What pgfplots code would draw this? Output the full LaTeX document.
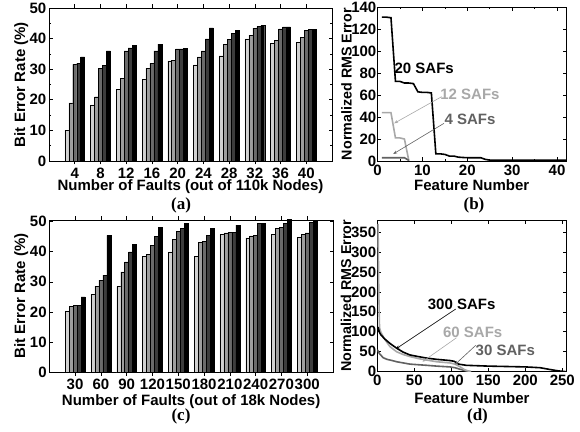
\documentclass[border=0pt]{standalone}
\usepackage{pgfplots}
\pgfplotsset{compat=1.18}
\usepackage{pgfplotstable}
\usetikzlibrary{arrows.meta}
\usepackage{fontspec}
\setmainfont{Liberation Sans}
\newfontfamily\capfont{Liberation Serif}

\definecolor{b1}{gray}{0.82}
\definecolor{b2}{gray}{0.62}
\definecolor{b3}{gray}{0.42}
\definecolor{b4}{gray}{0.24}
\definecolor{b5}{gray}{0.0}
\definecolor{lg}{gray}{0.66}
\definecolor{dg}{gray}{0.38}

\newcommand{\ff}{\fontsize{15}{17}\selectfont\bfseries}
\newcommand{\fs}{\fontsize{14.3}{16}\selectfont\bfseries}

\pgfplotstableread{
g s1 s2 s3 s4 s5
1 10 19 31.6 31.9 34
2 18.3 21 30.3 31.3 36
3 23.4 27 36 37 37.7
4 26.7 30.3 31.9 36 38.2
5 32.7 32.9 36.6 36.6 36.7
6 31.4 34 36 39.9 43.5
7 34.4 38.2 39.8 41.7 42.7
8 39.9 41.1 43.4 43.9 44.3
9 38.5 39.4 43.2 43.8 43.8
10 38.8 40.5 42.6 43 43.1
}\dataA

\pgfplotstableread{
g s1 s2 s3 s4 s5
1 20.4 21.8 22.3 22.3 25
2 25.8 28.6 30.6 32.2 45.4
3 28.4 33.3 36.6 39.9 42.5
4 38.5 39.2 42 45.1 48.1
5 39.9 44 46.8 47.8 49.5
6 38.5 43 43.5 45.5 47.7
7 45.7 46.2 46.3 46.4 48.8
8 44.6 45.2 45.4 49.4 49.4
9 45.7 47.7 48.1 49.3 50.8
10 44.7 45.7 46.2 49.7 50.1
}\dataC

\pgfplotsset{
  myax/.style={
    scale only axis, anchor=south west,
    axis line style={line width=0.8pt},
    every tick/.style={black, line width=0.6pt},
    major tick length=3.5pt, minor tick length=2pt,
    tick label style={font=\ff, inner sep=0.5pt},
    xticklabel style={yshift=-3pt},
    label style={font=\ff, inner sep=0.5pt},
    /pgf/number format/assume math mode=true,
  },
  barax/.style={
    myax, ybar, bar width=0.154,
    xmin=0, xmax=11, ymin=0,
    xtick={1,...,10},
    ytick={0,10,...,50},
    yticklabel style={xshift=-2pt},
    ylabel={Bit Error Rate (\%)},
  },
  barstyle/.style={draw=black, line width=0.4pt, fill=#1},
}

\begin{document}
\begin{tikzpicture}[x=1pt,y=1pt]
\useasboundingbox (0,0) rectangle (580,431);

% (a)
\begin{axis}[barax, at={(49pt,270pt)}, width=283pt, height=153pt,
  ymax=50, minor ytick={5,15,...,45},
  xticklabels={4,8,12,16,20,24,28,32,36,40},
  xlabel={Number of Faults (out of 110k Nodes)},
  y label style={at={(axis description cs:-0.098,0.5)}, anchor=center},
  x label style={at={(axis description cs:0.5,-0.17)}, anchor=center}]
\addplot[barstyle=b1, bar shift=-0.308] table[x=g,y=s1]{\dataA};
\addplot[barstyle=b2, bar shift=-0.154] table[x=g,y=s2]{\dataA};
\addplot[barstyle=b3, bar shift=0] table[x=g,y=s3]{\dataA};
\addplot[barstyle=b4, bar shift=0.154] table[x=g,y=s4]{\dataA};
\addplot[barstyle=b5, bar shift=0.308] table[x=g,y=s5]{\dataA};
\end{axis}

% (c)
\begin{axis}[barax, at={(49.3pt,58.7pt)}, width=283.7pt, height=152.3pt,
  ymax=50.5,
  xticklabels={30,60,90,120,150,180,210,240,270,300},
  xlabel={Number of Faults (out of 18k Nodes)},
  y label style={at={(axis description cs:-0.099,0.5)}, anchor=center},
  x label style={at={(axis description cs:0.5,-0.19)}, anchor=center}]
\addplot[barstyle=b1, bar shift=-0.308] table[x=g,y=s1]{\dataC};
\addplot[barstyle=b2, bar shift=-0.154] table[x=g,y=s2]{\dataC};
\addplot[barstyle=b3, bar shift=0] table[x=g,y=s3]{\dataC};
\addplot[barstyle=b4, bar shift=0.154] table[x=g,y=s4]{\dataC};
\addplot[barstyle=b5, bar shift=0.308] table[x=g,y=s5]{\dataC};
\end{axis}

% (b)
\begin{axis}[myax, at={(377.5pt,270pt)}, width=188.5pt, height=153.7pt,
  xmin=0, xmax=42, ymin=0, ymax=140,
  xtick={0,10,...,40}, minor xtick={5,15,...,35},
  ytick={0,20,...,140},
  yticklabel style={xshift=-0.5pt},
  xlabel={Feature Number}, ylabel={Normalized RMS Error},
  y label style={font=\fs, at={(axis description cs:-0.165,0.5)}, anchor=center},
  x label style={at={(axis description cs:0.5,-0.158)}, anchor=center}]
\addplot[black, line width=1.6pt] coordinates {
(1,131) (2,131) (3,130.5) (4,72.5) (5,72.5) (6,71) (7,71) (8,70.5) (9,63) (10,62.5)
(11,62.5) (12,62) (13,6.5) (14,6.5) (15,6) (16,4.5) (17,4.5) (18,3.5) (19,3.2) (20,3)
(21,3) (22,3) (23,3) (24,1.5) (25,0.8) (26,0.8) (27,0.8) (28,0.8) (29,0.8) (30,0.8)
(31,0.8) (32,0.8) (33,0.8) (34,0.8) (35,0.8) (36,0.8) (37,0.8) (38,0.8) (39,0.8) (40,0.8)
(41,0.8) (42,0.8)};
\addplot[lg, line width=1.6pt] coordinates {
(1,44) (2,44) (3,44) (4,21) (5,21) (6,20) (7,0)};
\addplot[dg, line width=1.6pt] coordinates {
(1,3) (2,3) (3,3) (4,3) (5,3) (6,3) (7,0.5)};
\node[font=\ff, text=black] at (axis cs:10.4,84.4) {20 SAFs};
\node[font=\ff, text=lg] at (axis cs:20.6,61) {12 SAFs};
\node[font=\ff, text=dg] at (axis cs:20.6,38) {4 SAFs};
\draw[lg, line width=0.6pt, -{Stealth[length=4pt,width=3pt]}] (axis cs:14.3,58.6) -- (axis cs:3.7,34.3);
\draw[dg, line width=0.6pt, -{Stealth[length=4pt,width=3pt]}] (axis cs:14.8,34.3) -- (axis cs:3.5,6.4);
\end{axis}

% (d)
\begin{axis}[myax, at={(377.3pt,59.3pt)}, width=189.4pt, height=151.7pt,
  xmin=0, xmax=256, ymin=0, ymax=380,
  xtick={0,50,...,250},
  ytick={0,50,...,350},
  yticklabel style={xshift=-0.5pt},
  xlabel={Feature Number}, ylabel={Normalized RMS Error},
  y label style={font=\fs, at={(axis description cs:-0.165,0.5)}, anchor=center},
  x label style={at={(axis description cs:0.5,-0.175)}, anchor=center}]
\addplot[dg, line width=1.6pt] coordinates {
(0,55) (3,45) (8,35) (13,31) (20,28) (26,25) (35,22) (44,19) (55,17.5) (67,16)
(80,14) (98,12) (105,10) (112,6) (120,2) (127,0)};
\addplot[lg, line width=1.6pt] coordinates {
(1,370) (2,200) (3,110) (5,98) (8,88) (12,76) (17,63) (26,50) (35,43) (44,38)
(55,33) (67,29) (80,25) (98,22) (105,19) (112,12) (118,5) (126,0)};
\addplot[black, line width=1.6pt] coordinates {
(1,112) (3,98) (5,92) (10,82) (17,71) (26,59) (35,49) (44,42) (55,38) (67,34)
(80,31) (98,28) (104,26) (110,19) (120,16) (150,14) (175,13) (200,12) (220,10)
(235,5) (245,2) (255,0)};
\node[font=\ff, text=black] at (axis cs:114,169) {300 SAFs};
\node[font=\ff, text=lg] at (axis cs:129,99) {60 SAFs};
\node[font=\ff, text=dg] at (axis cs:173,53) {30 SAFs};
\draw[black, line width=0.6pt, -{Stealth[length=4pt,width=3pt]}] (axis cs:106,157) -- (axis cs:25,57);
\draw[lg, line width=0.6pt, -{Stealth[length=4pt,width=3pt]}] (axis cs:107,85) -- (axis cs:61,25);
\draw[dg, line width=0.6pt, -{Stealth[length=4pt,width=3pt]}] (axis cs:133,66) -- (axis cs:105,18);
\end{axis}

\node[font=\capfont\bfseries\fontsize{17}{19}\selectfont] at (181pt,225.3pt) {(a)};
\node[font=\capfont\bfseries\fontsize{17}{19}\selectfont] at (474pt,226pt) {(b)};
\node[font=\capfont\bfseries\fontsize{17}{19}\selectfont] at (181pt,14.3pt) {(c)};
\node[font=\capfont\bfseries\fontsize{17}{19}\selectfont] at (477.5pt,14.3pt) {(d)};
\end{tikzpicture}
\end{document}
